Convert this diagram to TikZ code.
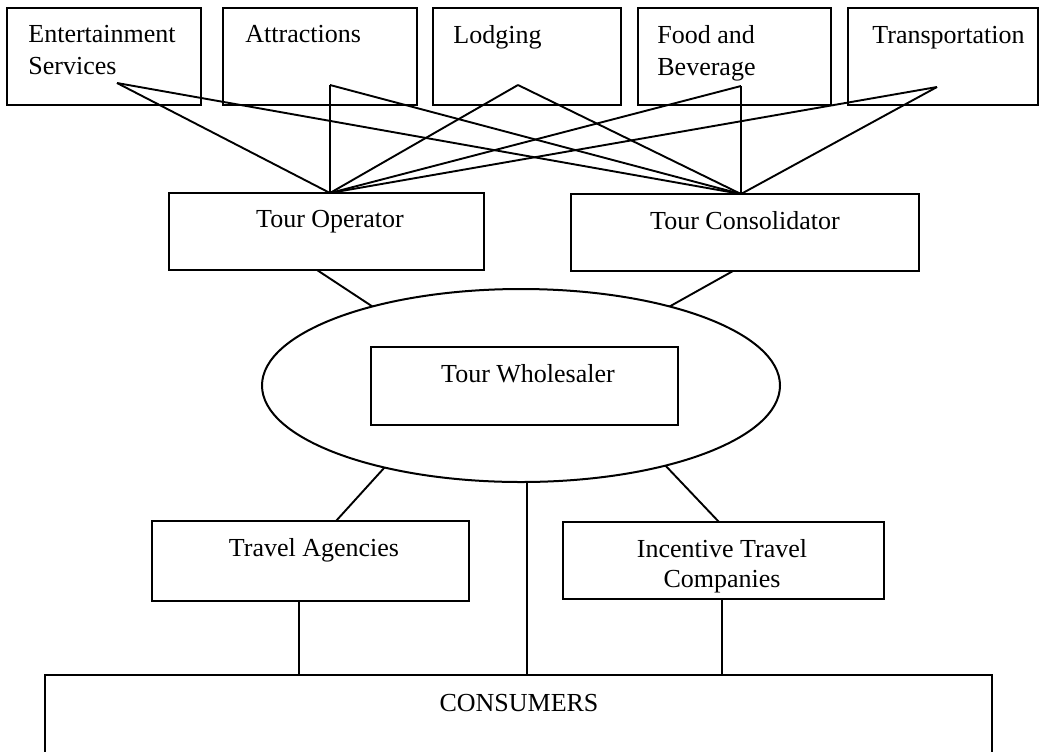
\documentclass[tikz,border=0pt]{standalone}
\usepackage{fontspec}
\setmainfont{Liberation Serif}
\usetikzlibrary{shapes.geometric}
\begin{document}
\begin{tikzpicture}[x=0.5pt,y=-0.5pt,
  box/.style={draw, line width=1pt, rectangle, inner sep=0pt, outer sep=0pt},
  oval/.style={draw, line width=1pt, ellipse, inner sep=0pt, outer sep=0pt},
  lbl/.style={font=\fontsize{13}{16}\selectfont, inner sep=0pt, anchor=base west, align=left},
  clbl/.style={font=\fontsize{13}{15}\selectfont, inner sep=0pt, anchor=base, align=center},
  link/.style={line width=0.95pt},
  thinlink/.style={line width=0.6pt}]
\useasboundingbox (0,0) rectangle (1040,751);

% suppliers
\node[box, minimum width=97pt,   minimum height=48.5pt] (ent)   at (104,56.5) {};
\node[box, minimum width=97pt,   minimum height=48.5pt] (attr)  at (320,56.5) {};
\node[box, minimum width=94pt,   minimum height=48.5pt] (lodg)  at (527,56.5) {};
\node[box, minimum width=96.5pt, minimum height=48.5pt] (food)  at (734.5,56.5) {};
\node[box, minimum width=95pt,   minimum height=48.5pt] (trans) at (943,56.5) {};

% labels: base anchor sits on the last line
\node[lbl] (ent-t)   at (28,74)  {Entertainment\\Services};
\node[lbl] (attr-t)  at (245,42) {Attractions};
\node[lbl] (lodg-t)  at (453,43) {Lodging};
\node[lbl] (food-t)  at (657,75) {Food and\\Beverage};
\node[lbl] (trans-t) at (872,43) {Transportation};

% tour operator and consolidator
\node[box, minimum width=157.5pt, minimum height=38.5pt] (op) at (326.5,231.5) {};
\node[box, minimum width=174pt,   minimum height=38.5pt] (co) at (745,232.5) {};
\node[clbl] (op-t) at (330,227) {Tour Operator};
\node[clbl] (co-t) at (745,229) {Tour Consolidator};

% wholesaler
\node[oval, minimum width=259pt, minimum height=96.5pt] (wh) at (521,385.5) {};
\node[box, minimum width=153.5pt, minimum height=39pt] (whb) at (524.5,386) {};
\node[clbl] (wh-t) at (528,382) {Tour Wholesaler};

% retail intermediaries
\node[box, minimum width=158.5pt, minimum height=40pt]   (ta)  at (310.5,561) {};
\node[box, minimum width=160.5pt, minimum height=38.5pt] (itc) at (723.5,560.5) {};
\node[clbl] (ta-t)  at (314,556) {Travel Agencies};
\node[clbl] (itc-t) at (722,587) {Incentive Travel\\Companies};

% consumers (box runs off the lower edge)
\node[box, minimum width=473.5pt, minimum height=60pt] (cs) at (518.5,735) {};
\node[clbl] (cs-t) at (519,711) {CONSUMERS};

% connection points inside the supplier boxes
\coordinate (ent-p)   at (117,83);
\coordinate (attr-p)  at (330,85);
\coordinate (lodg-p)  at (518,85);
\coordinate (food-p)  at (741,86);
\coordinate (trans-p) at (937,87);
\coordinate (op-in)   at (op.north -| attr-p);
\coordinate (co-in)   at (co.north -| food-p);

% suppliers to operator
\draw[link] (ent-p) -- (op-in);
\draw[thinlink] (attr-p) -- (op-in);
\draw[link] (lodg-p) -- (op-in);
\draw[link] (food-p) -- (op-in);
\draw[link] (trans-p) -- (op-in);
% suppliers to consolidator
\draw[link] (ent-p) -- (co-in);
\draw[link] (attr-p) -- (co-in);
\draw[link] (lodg-p) -- (co-in);
\draw[thinlink] (food-p) -- (co-in);
\draw[link] (trans-p) -- (co-in);

% operator / consolidator to wholesaler
\coordinate (op-out) at (317,270);
\coordinate (co-out) at (733,271);
\draw[link] (op-out) -- (wh.152.5);
\draw[link] (co-out) -- (wh.28.4);

% wholesaler to retailers and consumers
\coordinate (ta-in)  at (336,521);
\coordinate (itc-in) at (719,522);
\draw[link] (wh.211) -- (ta-in);
\draw[link] (wh.331.8) -- (itc-in);
\coordinate (wh-x) at (527,482);
\draw[thinlink] (wh-x) -- (wh-x |- cs.north);

% retailers to consumers
\coordinate (ta-x)  at (299,601);
\coordinate (itc-x) at (722,599);
\draw[thinlink] (ta-x) -- (ta-x |- cs.north);
\draw[thinlink] (itc-x) -- (itc-x |- cs.north);
\end{tikzpicture}
\end{document}
